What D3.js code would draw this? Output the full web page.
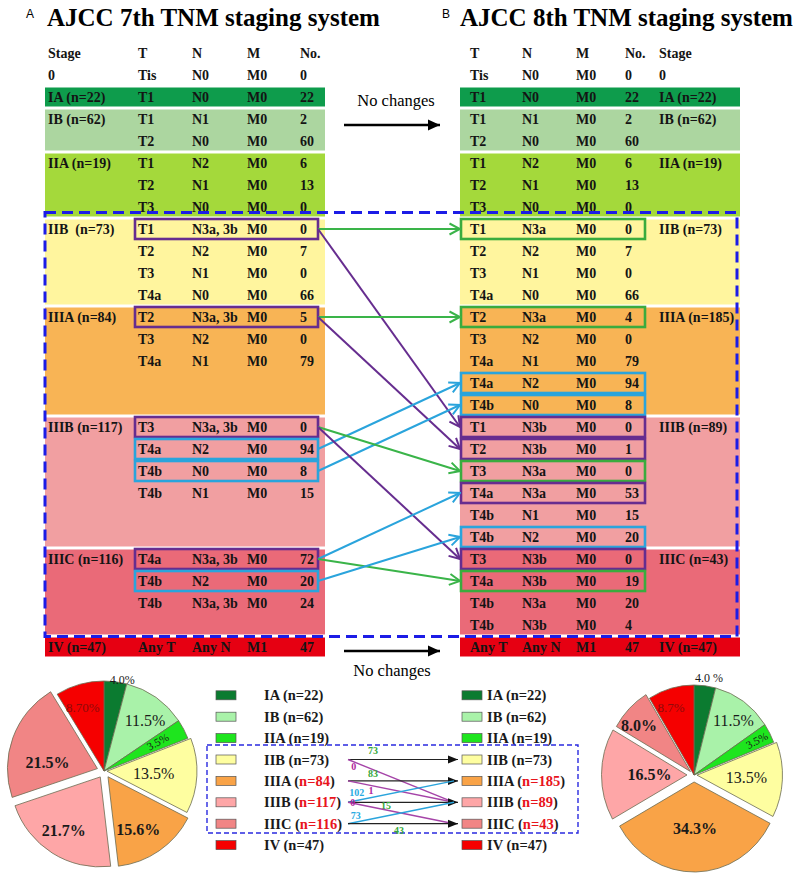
<!DOCTYPE html>
<html><head><meta charset="utf-8">
<script src="https://cdn.jsdelivr.net/npm/d3@7"></script>
<style>body{margin:0;background:#fff}</style>
</head><body><svg id="c" width="800" height="879"></svg>
<script>
// ---------------- DATA ----------------
const stages = ["IA","IB","IIA","IIB","IIIA","IIIB","IIIC","IV"];
const counts7 = [22,62,19,73,84,117,116,47];
const counts8 = [22,62,19,73,185,89,43,47];
const bandRows = [1,2,3,4,5,6,4,1];
const pctLabels7 = ["4.0%","11.5%","3.5%","13.5%","15.6%","21.7%","21.5%","8.70%"];
const pctLabels8 = ["4.0 %","11.5%","3.5%","13.5%","34.3%","16.5%","8.0%","8.7%"];
const header7 = ["Stage","T","N","M","No."];
const zero7 = ["0","Tis","N0","M0","0"];
const header8 = ["T","N","M","No.","Stage"];
const zero8 = ["Tis","N0","M0","0","0"];
// [stage index, T, N, M, No., box]
const table7 = [
  [0,"T1","N0","M0",22,""],
  [1,"T1","N1","M0",2,""],[1,"T2","N0","M0",60,""],
  [2,"T1","N2","M0",6,""],[2,"T2","N1","M0",13,""],[2,"T3","N0","M0",0,""],
  [3,"T1","N3a, 3b","M0",0,"p"],[3,"T2","N2","M0",7,""],[3,"T3","N1","M0",0,""],[3,"T4a","N0","M0",66,""],
  [4,"T2","N3a, 3b","M0",5,"p"],[4,"T3","N2","M0",0,""],[4,"T4a","N1","M0",79,""],
  [5,"T3","N3a, 3b","M0",0,"p"],[5,"T4a","N2","M0",94,"b"],[5,"T4b","N0","M0",8,"b"],[5,"T4b","N1","M0",15,""],
  [6,"T4a","N3a, 3b","M0",72,"p"],[6,"T4b","N2","M0",20,"b"],[6,"T4b","N3a, 3b","M0",24,""],
  [7,"Any T","Any N","M1",47,""]
];
const table8 = [
  [0,"T1","N0","M0",22,""],
  [1,"T1","N1","M0",2,""],[1,"T2","N0","M0",60,""],
  [2,"T1","N2","M0",6,""],[2,"T2","N1","M0",13,""],[2,"T3","N0","M0",0,""],
  [3,"T1","N3a","M0",0,"g"],[3,"T2","N2","M0",7,""],[3,"T3","N1","M0",0,""],[3,"T4a","N0","M0",66,""],
  [4,"T2","N3a","M0",4,"g"],[4,"T3","N2","M0",0,""],[4,"T4a","N1","M0",79,""],[4,"T4a","N2","M0",94,"b"],[4,"T4b","N0","M0",8,"b"],
  [5,"T1","N3b","M0",0,"p"],[5,"T2","N3b","M0",1,"p"],[5,"T3","N3a","M0",0,"g"],[5,"T4a","N3a","M0",53,"p"],[5,"T4b","N1","M0",15,""],[5,"T4b","N2","M0",20,"b"],
  [6,"T3","N3b","M0",0,"p"],[6,"T4a","N3b","M0",19,"g"],[6,"T4b","N3a","M0",20,""],[6,"T4b","N3b","M0",4,""],
  [7,"Any T","Any N","M1",47,""]
];
// [fromT, fromN, toT, toN, colour]
const flows = [
  ["T1","N3a, 3b","T1","N3a","g"],
  ["T1","N3a, 3b","T1","N3b","p"],
  ["T2","N3a, 3b","T2","N3a","g"],
  ["T2","N3a, 3b","T2","N3b","p"],
  ["T4a","N2","T4a","N2","b"],
  ["T4b","N0","T4b","N0","b"],
  ["T3","N3a, 3b","T3","N3a","g"],
  ["T3","N3a, 3b","T3","N3b","p"],
  ["T4a","N3a, 3b","T4a","N3a","b"],
  ["T4a","N3a, 3b","T4a","N3b","g"],
  ["T4b","N2","T4b","N2","b"]
];
// [from stage, to stage, patients, colour]
const legendFlows = [
  [3,3,73,"k"],[3,5,0,"p"],[4,4,83,"k"],[4,5,1,"p"],
  [5,4,102,"b"],[5,5,15,"k"],[5,6,0,"p"],[6,5,73,"b"],[6,6,43,"k"]
];

// ---------------- STYLE / LAYOUT ----------------
const serif = "'Liberation Serif','Times New Roman',serif";
const sans = "'Liberation Sans',Arial,sans-serif";
const bandColors = ["#0e9c4c","#acd6a0","#a4d93b","#fff59e","#f8b455","#f19fa1","#ea6a78","#e60012"];
const pieColors = ["#0b7b30","#a9f2a9","#1ee51e","#fefea0","#f9a347","#fea6a7","#f18585","#f50000"];
const boxCol = {p:"#662d8f", b:"#2aa4dc", g:"#3aab3e"};
const flowCol = {p:"#662d8f", b:"#2aa4dc", g:"#3ab449"};
const legLineCol = {k:"#222", p:"#a544a8", b:"#2aa4dc"};
const legLabCol = {k:"#36a83a", p:"#b0269c", b:"#29abe2"};

const svg = d3.select("#c");
const defs = svg.append("defs");
const y = d3.scaleLinear().domain([0,1]).range([53,75]);
const bandStart = [];
bandRows.reduce((acc,n,i)=>{bandStart[i]=acc; return acc+n;}, 2);

function rowIdx(table){
  const k = {};
  return table.map(r=>{const s=r[0]; k[s]=k[s]||0; const ri=bandStart[s]+k[s]; k[s]++; return ri;});
}
const ri7 = rowIdx(table7), ri8 = rowIdx(table8);

const L = {x0:45,x1:325,bx0:135,bx1:318,
  col:d3.scaleOrdinal().domain(["stage","T","N","M","No"]).range([48,138,192,247,300]),
  order:["stage","T","N","M","No"]};
const R = {x0:460,x1:740,bx0:461,bx1:645,
  col:d3.scaleOrdinal().domain(["T","N","M","No","stage"]).range([470,522,576,625,659]),
  order:["T","N","M","No","stage"]};

// titles
svg.append("text").attr("x",26).attr("y",18).attr("font-family",sans).attr("font-size",12).text("A");
svg.append("text").attr("x",47).attr("y",26).attr("font-family",serif).attr("font-weight","bold").attr("font-size",25).text("AJCC 7th TNM staging system");
svg.append("text").attr("x",442).attr("y",18).attr("font-family",sans).attr("font-size",12).text("B");
svg.append("text").attr("x",460).attr("y",26).attr("font-family",serif).attr("font-weight","bold").attr("font-size",25).text("AJCC 8th TNM staging system");

function drawTable(P, table, ris, counts, header, zero){
  const g = svg.append("g");
  g.selectAll("rect.band").data(stages).enter().append("rect")
    .attr("x",P.x0).attr("width",P.x1-P.x0)
    .attr("y",(d,i)=>y(bandStart[i])-11+1.5)
    .attr("height",(d,i)=>22*bandRows[i]-3)
    .attr("fill",(d,i)=>bandColors[i]);
  table.forEach((r,i)=>{
    if(!r[5]) return;
    g.append("rect").attr("x",P.bx0).attr("width",P.bx1-P.bx0)
      .attr("y",y(ris[i])-10).attr("height",20)
      .attr("fill","none").attr("stroke",boxCol[r[5]]).attr("stroke-width",2.6);
  });
  const txt = (x,yy,s)=>g.append("text").attr("x",x).attr("y",yy+5)
      .attr("font-family",serif).attr("font-weight","bold").attr("font-size",14).attr("fill","#141414").text(s);
  header.forEach((h,j)=>txt(P.col(P.order[j]),y(0),h));
  zero.forEach((h,j)=>txt(P.col(P.order[j]),y(1),h));
  table.forEach((r,i)=>{
    txt(P.col("T"),y(ris[i]),r[1]);
    txt(P.col("N"),y(ris[i]),r[2]);
    txt(P.col("M"),y(ris[i]),r[3]);
    txt(P.col("No"),y(ris[i]),r[4]);
  });
  stages.forEach((s,i)=>{
    const lab = s + (P===L && s==="IIB" ? "  " : " ") + "(n=" + counts[i] + ")";
    txt(P.col("stage"),y(bandStart[i]),lab).attr("xml:space","preserve");
  });
}
drawTable(L, table7, ri7, counts7, header7, zero7);
drawTable(R, table8, ri8, counts8, header8, zero8);

// flow markers
Object.keys(flowCol).forEach(k=>{
  defs.append("marker").attr("id","fm-"+k).attr("viewBox","0 -7 13 14")
    .attr("refX",11.5).attr("refY",0).attr("markerWidth",13).attr("markerHeight",14)
    .attr("markerUnits","userSpaceOnUse").attr("orient","auto")
    .append("path").attr("d","M1,-5.5L11.5,0L1,5.5").attr("fill","none")
    .attr("stroke",flowCol[k]).attr("stroke-width",2);
});
flows.forEach(f=>{
  const li = table7.findIndex(r=>r[1]===f[0]&&r[2]===f[1]);
  const rj = table8.findIndex(r=>r[1]===f[2]&&r[2]===f[3]);
  svg.append("line").attr("x1",L.bx1).attr("y1",y(ri7[li]))
    .attr("x2",R.bx0-1).attr("y2",y(ri8[rj]))
    .attr("stroke",flowCol[f[4]]).attr("stroke-width",2)
    .attr("marker-end","url(#fm-"+f[4]+")");
});

// black "No changes" arrows
defs.append("marker").attr("id","bk").attr("viewBox","0 -6 12 12").attr("refX",12).attr("refY",0)
  .attr("markerWidth",12).attr("markerHeight",12).attr("markerUnits","userSpaceOnUse").attr("orient","auto")
  .append("path").attr("d","M0,-5.5L12,0L0,5.5Z").attr("fill","#000");
[[125,106],[651,676]].forEach(([ly,ty],k)=>{
  svg.append("line").attr("x1",344).attr("x2",440).attr("y1",ly).attr("y2",ly)
    .attr("stroke","#000").attr("stroke-width",2.5).attr("marker-end","url(#bk)");
  svg.append("text").attr("x",k?392:396).attr("y",ty).attr("text-anchor","middle")
    .attr("font-family",serif).attr("font-size",16.5).text("No changes");
});

// dashed region
svg.append("rect").attr("x",45).attr("y",212.5).attr("width",692).attr("height",424)
  .attr("fill","none").attr("stroke","#1c1ce6").attr("stroke-width",3).attr("stroke-dasharray","11,6");

// ---------------- PIES ----------------
function drawPie(cx, cy, Rr, sx, counts, labels, explode, labK, labA){
  const g = svg.append("g").attr("transform",`translate(${cx},${cy})`);
  const arcs = d3.pie().sort(null).value(d=>d)(counts);
  const arc = d3.arc().innerRadius(0).outerRadius(Rr);
  arcs.forEach((a,i)=>{
    const mid = (a.startAngle+a.endAngle)/2;
    const ox = explode[i]*Math.sin(mid), oy = -explode[i]*Math.cos(mid);
    g.append("path").attr("d",arc(a)).attr("transform",`translate(${ox},${oy}) scale(${sx},1)`)
      .attr("fill",pieColors[i]).attr("stroke","#6b6b50").attr("stroke-width",0.8)
      .attr("vector-effect","non-scaling-stroke");
  });
  arcs.forEach((a,i)=>{
    const m0 = (a.startAngle+a.endAngle)/2;
    const mid = m0 + labA[i]*Math.PI/180;
    const ox = explode[i]*Math.sin(m0), oy = -explode[i]*Math.cos(m0);
    const r = labK[i]*Rr;
    const px = ox + sx*r*Math.sin(mid), py = oy - r*Math.cos(mid);
    const bold = i>=4 && i<=6;
    const size = i===0?12 : i===2?11 : i===7?13 : 16;
    g.append("text").attr("text-anchor","middle").attr("dominant-baseline","central")
      .attr("font-family",serif).attr("font-size",size)
      .attr("font-weight",bold?"bold":"normal")
      .attr("fill", i===7 ? "#8e0b0b" : "#1a1a1a")
      .attr("transform",`translate(${px},${py})` + (i===2?` rotate(${mid*180/Math.PI-90})`:""))
      .text(labels[i]);
  });
}
drawPie(104,771,90,1,counts7,pctLabels7,[0,0,0,3,7,7,7,0],
  [1.03,0.72,0.68,0.52,0.68,0.72,0.56,0.74],[4,4,-1,0,5,2,-13,-3]);
drawPie(694,775,90,0.95,counts8,pctLabels8,[0,0,0,3,7,7,5,0],
  [1.09,0.76,0.83,0.58,0.52,0.44,0.79,0.80],[2,2,0,0,0,0,-4,-4]);

// ---------------- LEGEND ----------------
const ly = d3.scaleLinear().domain([0,1]).range([695.3,716.7]);
function legendCol(sx, tx, counts){
  stages.forEach((s,i)=>{
    svg.append("rect").attr("x",sx).attr("y",ly(i)-4.5).attr("width",20).attr("height",9)
      .attr("fill",pieColors[i]).attr("stroke","#555").attr("stroke-width",0.7);
    const t = svg.append("text").attr("x",tx).attr("y",ly(i)+5)
      .attr("font-family",serif).attr("font-weight","bold").attr("font-size",14.5).attr("fill","#1a1a1a");
    const red = i>=4 && i<=6;
    t.append("tspan").text(s+" (");
    t.append("tspan").attr("fill",red?"#e8141c":"#1a1a1a").text("n="+counts[i]);
    t.append("tspan").text(")");
  });
}
legendCol(216,264,counts7);
legendCol(462,487,counts8);

svg.append("rect").attr("x",207).attr("y",745).attr("width",371).attr("height",88)
  .attr("fill","none").attr("stroke","#2a2ae0").attr("stroke-width",1.4).attr("stroke-dasharray","5,3");

defs.append("marker").attr("id","lk").attr("viewBox","0 -5 10 10").attr("refX",10).attr("refY",0)
  .attr("markerWidth",10).attr("markerHeight",10).attr("markerUnits","userSpaceOnUse").attr("orient","auto")
  .append("path").attr("d","M0,-4L10,0L0,4Z").attr("fill","#111");
// label placement along each legend line: [t, dx, dy]
const legLabPos = [[0.227,0,-9],[0.055,0,5],[0.227,0,-7],[0.218,0,5],[0.082,0,-8],[0.345,0,3],[0.055,-1,-0.5],[0.064,1,-6.5],[0.464,0,6.5]];
legendFlows.forEach((f,i)=>{
  const x1=348, x2 = f[3]==="k"?458:454;
  const y1=ly(f[0]), y2=ly(f[1]);
  const ln = svg.append("line").attr("x1",x1).attr("y1",y1).attr("x2",x2).attr("y2",y2)
    .attr("stroke",legLineCol[f[3]]).attr("stroke-width",f[3]==="k"?1.2:1.4);
  if(f[3]==="k") ln.attr("marker-end","url(#lk)");
  const [t,dx,dy] = legLabPos[i];
  svg.append("text").attr("x",x1+(x2-x1)*t+dx).attr("y",y1+(y2-y1)*t+dy)
    .attr("text-anchor","middle").attr("dominant-baseline","central")
    .attr("font-family",serif).attr("font-weight","bold").attr("font-size",10)
    .attr("fill",legLabCol[f[3]]).text(f[2]);
});
</script></body></html>
